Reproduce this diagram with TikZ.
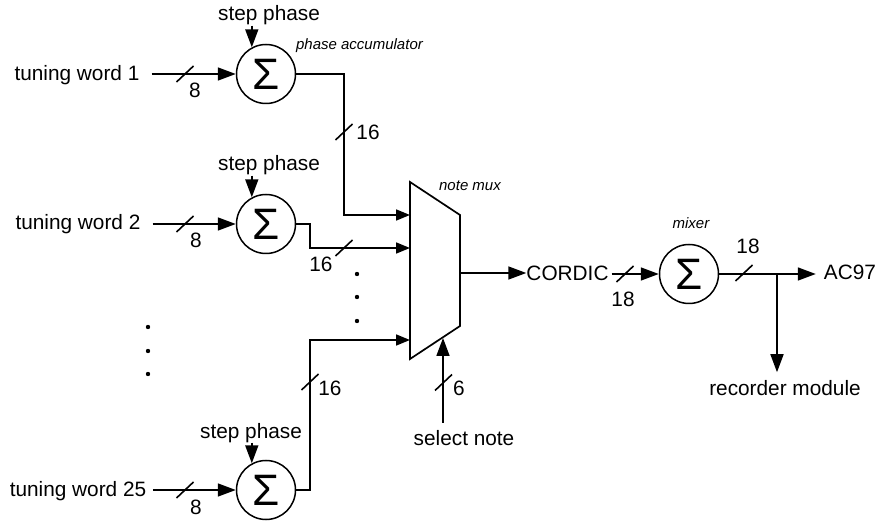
\documentclass[tikz,border=0pt]{standalone}
\usepackage{fontspec}
\setmainfont{Liberation Sans}
\usetikzlibrary{arrows.meta,calc}
\tikzset{
  wire/.style={line width=1.7pt,draw=black},
  big/.style={wire,-{Triangle[length=18pt,width=13pt]}},
  small/.style={wire,-{Triangle[length=14pt,width=11pt]}},
  plainwire/.style={wire,line join=miter},
  ticks/.style={line width=1.6pt,draw=black},
  lab/.style={inner sep=0pt,anchor=base,font=\fontsize{20.8}{24}\selectfont},
  itlab/.style={inner sep=0pt,anchor=base,font=\fontsize{15}{18}\itshape\selectfont},
  sumnode/.style={circle,draw=black,line width=1.5pt,minimum size=59pt,inner sep=0pt,font=\fontsize{44}{48}\selectfont},
  dotmark/.style={fill=black,draw=none,circle,minimum size=4.4pt,inner sep=0pt}
}
\newcommand{\slashmark}[2]{\draw[ticks] (#1-8.5,#2+8) -- (#1+8.5,#2-8);}
\begin{document}
\begin{tikzpicture}[x=1pt,y=-1pt]
\useasboundingbox (0,0) rectangle (876,521);
% summers
\node[sumnode] (s1) at (266,74) {Σ};
\node[sumnode] (s2) at (266,224) {Σ};
\node[sumnode] (s3) at (266,490) {Σ};
\node[sumnode] (s4) at (689,274) {Σ};
% mux
\coordinate (ma) at (410,182);
\coordinate (mb) at (460,215);
\coordinate (mc) at (460,326);
\coordinate (md) at (410,359);
\draw[plainwire] (ma) -- (mb) -- (mc) -- (md) -- cycle;
\coordinate (mi1) at (410,215);
\coordinate (mi2) at (410,248);
\coordinate (mi3) at (410,340);
\coordinate (mo) at (460,273);
\coordinate (ms) at (443,338);
% labels
\node[lab] (t1) at (77,80.5) {tuning word 1};
\node[lab] (t2) at (78,229.5) {tuning word 2};
\node[lab] (t3) at (78,496.5) {tuning word 25};
\node[lab] (p1) at (269,21) {step phase};
\node[lab] (p2) at (269,171) {step phase};
\node[lab] (p3) at (251,438) {step phase};
\node[lab] at (195,97.5) {8};
\node[lab] at (196,247.5) {8};
\node[lab] at (196,514.5) {8};
\node[lab] at (368,139.5) {16};
\node[lab] at (321,271.5) {16};
\node[lab] at (330,395.5) {16};
\node[lab] at (623,306.5) {18};
\node[lab] at (748,254) {18};
\node[lab] at (459,395.5) {6};
\node[itlab] at (359.5,50) {phase accumulator};
\node[itlab] at (470,191) {note mux};
\node[itlab] at (691,229) {mixer};
\node[lab] (cordic) at (567.5,281) {CORDIC};
\node[lab] (ac) at (850,279.5) {AC97};
\node[lab] (rec) at (785,395.5) {recorder module};
\node[lab] (sel) at (464,446) {select note};
% inputs
\draw[big,shorten <=12pt] (t1.base east |- s1.west) -- (s1.west);
\draw[big,shorten <=12pt] (t2.base east |- s2.west) -- (s2.west);
\draw[big,shorten <=6.5pt] (t3.base east |- s3.west) -- (s3.west);
\draw[big] (p1.south -| s1.118) -- (s1.118);
\draw[big] (p2.south -| s2.118) -- (s2.118);
\draw[big] (p3.south -| s3.118) -- (s3.118);
% to mux
\draw[small] (s1.east) -- (344,74) -- (344,215) -- (mi1);
\draw[small] (s2.east) -- (310,224) -- (310,248) -- (mi2);
\draw[small] (s3.east) -- (310,490) -- (310,340) -- (mi3);
\draw[big,shorten <=8pt] (sel.north -| ms) -- (ms);
\draw[big] (mo) -- (cordic.west |- mo);
\draw[big,shorten <=3pt] (cordic.base east |- s4.west) -- (s4.west);
\draw[big,shorten >=8pt] (s4.east) -- (ac.base west |- s4.east);
\coordinate (j) at (777,274);
\draw[big,shorten >=8pt] (j) -- (j |- rec.north);
% bus ticks
\slashmark{185}{74}
\slashmark{185}{224}
\slashmark{185}{490}
\slashmark{344}{132}
\slashmark{344}{248}
\slashmark{310}{382}
\slashmark{625}{274}
\slashmark{744}{273}
\slashmark{443.5}{382.5}
% ellipsis dots
\foreach \n/\x/\y in {a/357/274,b/357/297,c/357/321,d/148/327,e/148/351,f/148/374}
  \node[dotmark] (dot\n) at (\x,\y) {};
\end{tikzpicture}
\end{document}
